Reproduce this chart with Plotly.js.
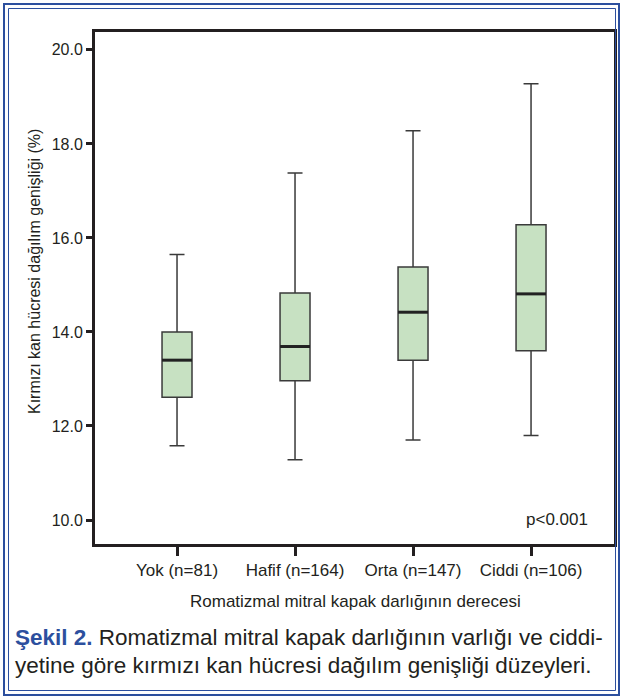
<!DOCTYPE html>
<html>
<head>
<meta charset="utf-8">
<script src="https://cdn.plot.ly/plotly-3.0.1.min.js"></script>
<style>
  html, body { margin: 0; padding: 0; background: #ffffff; }
  #chart { width: 623px; height: 699px; }
</style>
</head>
<body>
<div id="chart"></div>
<script>
// ---- Data ----
const categories = ["Yok (n=81)", "Hafif (n=164)", "Orta (n=147)", "Ciddi (n=106)"];
const lowerWhisker = [11.58, 11.28, 11.70, 11.80];
const q1Values     = [12.61, 12.96, 13.40, 13.60];
const medianValues = [13.40, 13.69, 14.42, 14.81];
const q3Values     = [14.00, 14.83, 15.38, 16.28];
const upperWhisker = [15.65, 17.38, 18.28, 19.28];
const yTickValues  = [10, 12, 14, 16, 18, 20];
const xAxisTitle = "Romatizmal mitral kapak darlığının derecesi";
const yAxisTitle = "Kırmızı kan hücresi dağılım genişliği (%)";
const pValueText = "p<0.001";
const captionBold = "Şekil 2.";
const captionLine1 = " Romatizmal mitral kapak darlığının varlığı ve ciddi-";
const captionLine2 = "yetine göre kırmızı kan hücresi dağılım genişliği düzeyleri.";

// ---- Styling ----
const FONT = "'Liberation Sans', Arial, Helvetica, sans-serif";
const INK = "#231f20";
const BLUE = "#2c4f9e";
const BOX_W = 0.254;

const L = 95, R = 614, T = 32, B = 544, W = 623, H = 699;
const px = v => (v - L) / (R - L);
const py = v => (B - v) / (B - T);

const xIdx = categories.map((_, i) => i);

const boxTrace = {
  type: "box",
  x: xIdx,
  q1: q1Values,
  median: medianValues,
  q3: q3Values,
  lowerfence: lowerWhisker,
  upperfence: upperWhisker,
  width: BOX_W,
  whiskerwidth: 0.5,
  fillcolor: "#c7e1c2",
  line: { color: "#3a3a3a", width: 1.5 },
  boxpoints: false,
  hoverinfo: "skip",
  showlegend: false
};

// thick median bars, drawn from the median array
const medX = [], medY = [];
medianValues.forEach((m, i) => {
  medX.push(i - BOX_W / 2, i + BOX_W / 2, null);
  medY.push(m, m, null);
});
const medianTrace = {
  type: "scatter",
  mode: "lines",
  x: medX,
  y: medY,
  line: { color: "#222222", width: 3 },
  hoverinfo: "skip",
  showlegend: false
};

const layout = {
  width: W,
  height: H,
  paper_bgcolor: "#ffffff",
  plot_bgcolor: "#ffffff",
  margin: { l: L, r: W - R, t: T, b: H - B, pad: 0 },
  font: { family: FONT, size: 16, color: INK },
  showlegend: false,
  xaxis: {
    range: [-0.695, 3.703],
    tickvals: xIdx,
    ticktext: categories,
    ticks: "outside",
    ticklen: 9,
    tickwidth: 3,
    tickcolor: INK,
    showline: true,
    linecolor: INK,
    linewidth: 3,
    mirror: true,
    showgrid: false,
    zeroline: false,
    tickfont: { family: FONT, size: 17, color: INK }
  },
  yaxis: {
    range: [9.49, 20.38],
    tickvals: yTickValues,
    tickformat: ".1f",
    ticks: "outside",
    ticklen: 6,
    tickwidth: 3,
    tickcolor: INK,
    showline: true,
    linecolor: INK,
    linewidth: 3,
    mirror: true,
    showgrid: false,
    zeroline: false,
    tickfont: { family: FONT, size: 16, color: INK }
  },
  annotations: [
    { text: xAxisTitle, xref: "paper", yref: "paper", x: px(355), y: py(601),
      xanchor: "center", yanchor: "middle", showarrow: false,
      font: { family: FONT, size: 17, color: INK } },
    { text: yAxisTitle, xref: "paper", yref: "paper", x: px(34), y: py(272),
      xanchor: "center", yanchor: "middle", textangle: -90, showarrow: false,
      font: { family: FONT, size: 16, color: INK } },
    { text: pValueText, xref: "paper", yref: "paper", x: px(590), y: py(519),
      xanchor: "right", yanchor: "middle", showarrow: false,
      font: { family: FONT, size: 17, color: INK } },
    { text: "<span style='color:" + BLUE + "'><b>" + captionBold + "</b></span>" + captionLine1,
      xref: "paper", yref: "paper", x: px(13), y: py(637),
      xanchor: "left", yanchor: "middle", showarrow: false, align: "left",
      font: { family: FONT, size: 22.5, color: INK } },
    { text: captionLine2,
      xref: "paper", yref: "paper", x: px(13), y: py(665),
      xanchor: "left", yanchor: "middle", showarrow: false, align: "left",
      font: { family: FONT, size: 22.5, color: INK } }
  ],
  shapes: [
    { type: "rect", xref: "paper", yref: "paper",
      x0: px(4), x1: px(619), y0: py(695), y1: py(4),
      line: { color: BLUE, width: 2 }, fillcolor: "rgba(0,0,0,0)" },
    { type: "rect", xref: "paper", yref: "paper",
      x0: px(8.5), x1: px(615.5), y0: py(690.5), y1: py(8.5),
      line: { color: BLUE, width: 1 }, fillcolor: "rgba(0,0,0,0)" }
  ]
};

Plotly.newPlot("chart", [boxTrace, medianTrace], layout, { staticPlot: true, displayModeBar: false });
</script>
</body>
</html>
